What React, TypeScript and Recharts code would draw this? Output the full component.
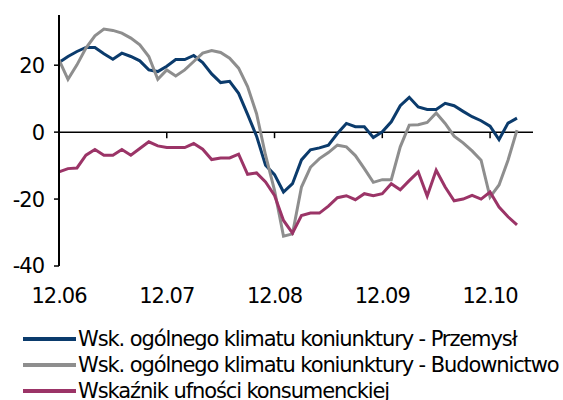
import { LineChart, Line, XAxis, YAxis, ReferenceLine, Legend } from 'recharts'

// miesiące 12.06 - 03.11
const months = [
  '12.06', '01.07', '02.07', '03.07', '04.07', '05.07', '06.07', '07.07', '08.07', '09.07', '10.07', '11.07',
  '12.07', '01.08', '02.08', '03.08', '04.08', '05.08', '06.08', '07.08', '08.08', '09.08', '10.08', '11.08',
  '12.08', '01.09', '02.09', '03.09', '04.09', '05.09', '06.09', '07.09', '08.09', '09.09', '10.09', '11.09',
  '12.09', '01.10', '02.10', '03.10', '04.10', '05.10', '06.10', '07.10', '08.10', '09.10', '10.10', '11.10',
  '12.10', '01.11', '02.11', '03.11'
]

const przemysl = [
  20.8, 22.6, 24.1, 25.3, 25.3, 23.4, 21.8, 23.6, 22.6, 21.3, 18.6, 18.1,
  19.7, 21.7, 21.7, 22.9, 20.8, 17.4, 14.8, 15.2, 11.6, 5.3, -1.2, -9.9,
  -12.7, -17.9, -15.4, -8.3, -5.3, -4.7, -3.9, -0.4, 2.6, 1.6, 1.6, -1.6,
  0.1, 3.1, 7.9, 10.4, 7.5, 6.8, 6.8, 8.6, 7.9, 6.2, 4.6, 3.4,
  1.8, -2.2, 2.7, 4.2
]

const budownictwo = [
  21.6, 15.8, 20.1, 25.1, 28.8, 30.8, 30.4, 29.6, 28.1, 26.1, 22.6, 15.8,
  18.6, 16.8, 18.6, 21.1, 23.6, 24.4, 23.8, 22.1, 19.1, 13.6, 5.5, -6.9,
  -17.4, -31.1, -30.4, -16.4, -10.5, -7.9, -6.1, -3.9, -4.4, -7.0, -10.9, -15.0,
  -14.2, -14.2, -4.4, 2.1, 2.2, 2.9, 5.7, 2.6, -1.2, -3.2, -5.6, -8.4,
  -19.4, -15.8, -8.4, 0.6
]

const konsument = [
  -11.9, -10.9, -10.7, -6.9, -5.2, -6.9, -6.9, -5.2, -6.9, -4.9, -2.9, -4.1,
  -4.6, -4.6, -4.6, -3.4, -5.1, -8.2, -7.7, -7.7, -6.6, -12.6, -12.2, -14.9,
  -18.9, -26.4, -30.2, -24.9, -24.2, -24.2, -22.1, -19.6, -19.0, -20.2, -18.4, -19.0,
  -18.4, -15.4, -17.2, -14.5, -11.9, -19.1, -11.4, -16.4, -20.5, -20.0, -18.9, -20.0,
  -17.9, -22.4, -25.3, -27.7
]

const xTicks = ['12.06', '12.07', '12.08', '12.09', '12.10']
const yTicks = [-40, -20, 0, 20]

const SERIES = [
  { key: 'przemysl', name: 'Wsk. ogólnego klimatu koniunktury - Przemysł', color: '#0b3b6c' },
  { key: 'budownictwo', name: 'Wsk. ogólnego klimatu koniunktury - Budownictwo', color: '#8e8e8e' },
  { key: 'konsument', name: 'Wskaźnik ufności konsumenckiej', color: '#9b3467' }
]

// Tahoma-podobny krój: DejaVu Sans ze ściśniętymi odstępami
const FONT = '"DejaVu Sans", Verdana, sans-serif'
const tickStyle = { fontSize: 21, fontFamily: FONT, fill: '#000', letterSpacing: '-1px' }

const data = months.map((m, i) => ({
  month: m,
  przemysl: przemysl[i],
  budownictwo: budownictwo[i],
  konsument: konsument[i]
}))

function LegendBox() {
  return (
    <div style={{ fontFamily: FONT, fontSize: 21, letterSpacing: '-1.1px', color: '#000' }}>
      {SERIES.map(s => (
        <div key={s.key} style={{ display: 'flex', alignItems: 'center', height: 26, whiteSpace: 'nowrap' }}>
          <svg width={55} height={6} style={{ marginLeft: 23 }}>
            <line x1={0} y1={3} x2={53} y2={3} stroke={s.color} strokeWidth={4} />
          </svg>
          <span>{s.name}</span>
        </div>
      ))}
    </div>
  )
}

export default function App() {
  return (
    <div style={{ position: 'absolute', left: 0, top: 0, width: 563, height: 400, background: '#fff', overflow: 'hidden' }}>
      <LineChart width={563} height={400} data={data} margin={{ top: 15, right: 30, bottom: 94, left: 0 }}>
        <XAxis
          dataKey="month"
          ticks={xTicks}
          interval={0}
          axisLine={false}
          tickLine={false}
          tickSize={0}
          tickMargin={22}
          height={40}
          padding={{ left: 0, right: 16 }}
          tick={tickStyle}
        />
        <YAxis
          domain={[-40, 35]}
          ticks={yTicks}
          interval={0}
          width={59}
          axisLine={{ stroke: '#000', strokeWidth: 2 }}
          tickLine={{ stroke: '#000', strokeWidth: 1.5 }}
          tickSize={5}
          tickMargin={10}
          tick={tickStyle}
        />
        <ReferenceLine y={0} stroke="#000" strokeWidth={1.5} />
        {xTicks.slice(1).map(t => (
          <ReferenceLine
            key={t}
            segment={[{ x: t, y: 0 }, { x: t, y: -1.8 }]}
            stroke="#000"
            strokeWidth={1.5}
          />
        ))}
        {SERIES.map(s => (
          <Line
            key={s.key}
            type="linear"
            dataKey={s.key}
            name={s.name}
            stroke={s.color}
            strokeWidth={3}
            dot={false}
            isAnimationActive={false}
          />
        ))}
        <Legend
          layout="horizontal"
          verticalAlign="middle"
          align="center"
          content={() => <LegendBox />}
          wrapperStyle={{ left: 0, top: 326, width: 563 }}
        />
      </LineChart>
    </div>
  )
}
